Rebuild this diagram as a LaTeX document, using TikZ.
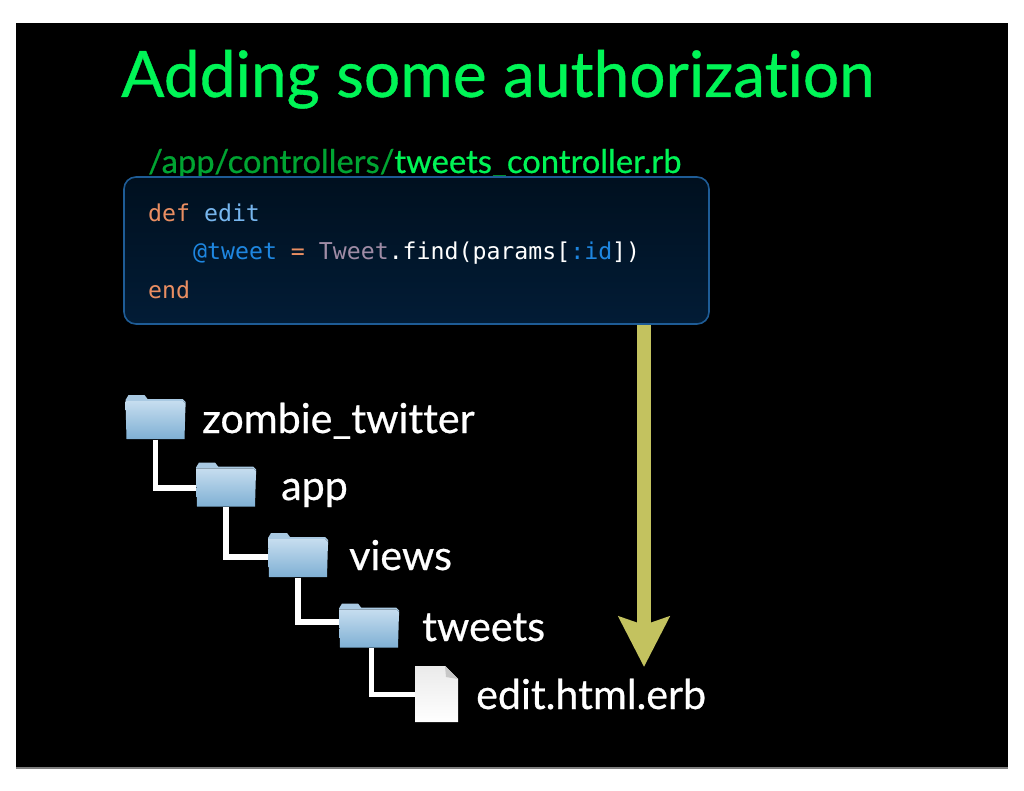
\documentclass[tikz,border=0pt]{standalone}
\usepackage{fontspec}
\setmainfont{Lato}[Ligatures=CommonOff,FakeBold=0.6]
\setmonofont{DejaVu Sans Mono}
\usetikzlibrary{arrows.meta}
\definecolor{title_green}{HTML}{00F556}
\definecolor{path_green}{HTML}{00A432}
\definecolor{code_orange}{HTML}{E98E62}
\definecolor{code_sky}{HTML}{77B6EE}
\definecolor{code_blue}{HTML}{1E86E0}
\definecolor{code_mauve}{HTML}{A08CA6}
\definecolor{box_edge}{HTML}{1E5C96}
\definecolor{box_top}{HTML}{00101F}
\definecolor{box_bottom}{HTML}{021C36}
\definecolor{folder_tab}{HTML}{A9C9E2}
\definecolor{folder_top}{HTML}{C6DDEF}
\definecolor{folder_bottom}{HTML}{7FB0D4}
\definecolor{arrow_olive}{HTML}{C3C25F}
\tikzset{
	textnode/.style = {
		inner sep=0pt,
		anchor=base west,
		text=white
	},
	node_title/.style = {
		textnode,
		text=title_green,
		font=\fontsize{64}{64}\selectfont
	},
	node_path/.style = {
		textnode,
		text=title_green,
		font=\fontsize{32.7}{32.7}\selectfont
	},
	node_code/.style = {
		textnode,
		font=\fontsize{23.2}{23.2}\ttfamily
	},
	node_file/.style = {
		textnode,
		font=\fontsize{41.2}{41.2}\selectfont
	},
	node_codebox/.style = {
		rectangle,
		rounded corners=12pt,
		minimum width=585pt,
		minimum height=147pt,
		draw=box_edge,
		line width=1.6pt,
		top color=box_top,
		bottom color=box_bottom,
		inner sep=0pt
	},
	node_folder/.style = {
		rectangle,
		minimum width=60pt,
		minimum height=45pt,
		inner sep=0pt
	},
	node_doc/.style = {
		rectangle,
		minimum width=43pt,
		minimum height=56pt,
		inner sep=0pt
	},
	treeline/.style = {
		white,
		line width=5.5pt,
		line join=miter
	},
	icon_folder/.pic = {
		\fill [folder_tab] (-30,-17) -- (-27,-22) -- (-11,-22) -- (-8,-18) -- (27,-18) -- (30,-15) -- (30,-10) -- (-30,-10) -- cycle;
		\fill [top color=folder_top, bottom color=folder_bottom] (-30,-16) -- (27,-16) -- (30,-13) -- (29,22) -- (-29,22) -- cycle;
	},
	icon_doc/.pic = {
		\fill [top color=black!8, bottom color=white] (-21.5,-28) -- (8.5,-28) -- (21.5,-15) -- (21.5,28) -- (-21.5,28) -- cycle;
		\fill [black!22] (8.5,-28) -- (21.5,-15) -- (9.5,-17) -- cycle;
	},
}
\begin{document}
\begin{tikzpicture}[x=1pt,y=-1pt]
\useasboundingbox (0,0) rectangle (1024,791);
\fill [black] (16,23) rectangle (1008,767);
\fill [black!50] (16,767) rectangle (1008,769);

\node [node_title] (title) at (121,97) {Adding some authorization};
\node [node_path] (code_path) at (148,173) {\textcolor{path_green}{/app/controllers/}tweets\_controller.rb};

% arrow runs out of the box
\coordinate (arrow_tip) at (644,667);
\node [node_codebox] (code_box) at (416.5,250.5) {};
\draw [-{Stealth[length=50pt,width=50pt,inset=8pt]}, line width=14pt, color=arrow_olive] (code_box.south -| arrow_tip) -- (arrow_tip);

\node [node_code] (line_def) at (148,221.5) {\textcolor{code_orange}{def} \textcolor{code_sky}{edit}};
\node [node_code] (line_find) at (193,259.5) {\textcolor{code_blue}{@tweet} \textcolor{code_orange}{=} \textcolor{code_mauve}{Tweet}.find(params[\textcolor{code_blue}{:id}])};
\node [node_code] (line_end) at (148,298.5) {\textcolor{code_orange}{end}};

\node [node_folder] (zombie) at (155.5,417) {};
\node [node_folder] (app) at (226,484.5) {};
\node [node_folder] (views) at (298,555) {};
\node [node_folder] (tweets) at (369,625.5) {};
\node [node_doc] (edit) at (436.5,694) {};

\foreach \from/\to/\dx/\dy in {zombie/app/0/3.5, app/views/0/2, views/tweets/0/-3.5, tweets/edit/2.5/0.5}
	\draw [treeline] ([xshift=\dx pt]\from.south) |- ([yshift=-\dy pt]\to.west);

\foreach \name in {zombie, app, views, tweets}
	\pic at (\name) {icon_folder};
\pic at (edit) {icon_doc};

\node [node_file] (label_zombie) at (202,433) {zombie\_twitter};
\node [node_file] (label_app) at (281,500) {app};
\node [node_file] (label_views) at (349,570) {views};
\node [node_file] (label_tweets) at (422,641) {tweets};
\node [node_file] (label_edit) at (476,709) {edit.html.erb};
\end{tikzpicture}
\end{document}
